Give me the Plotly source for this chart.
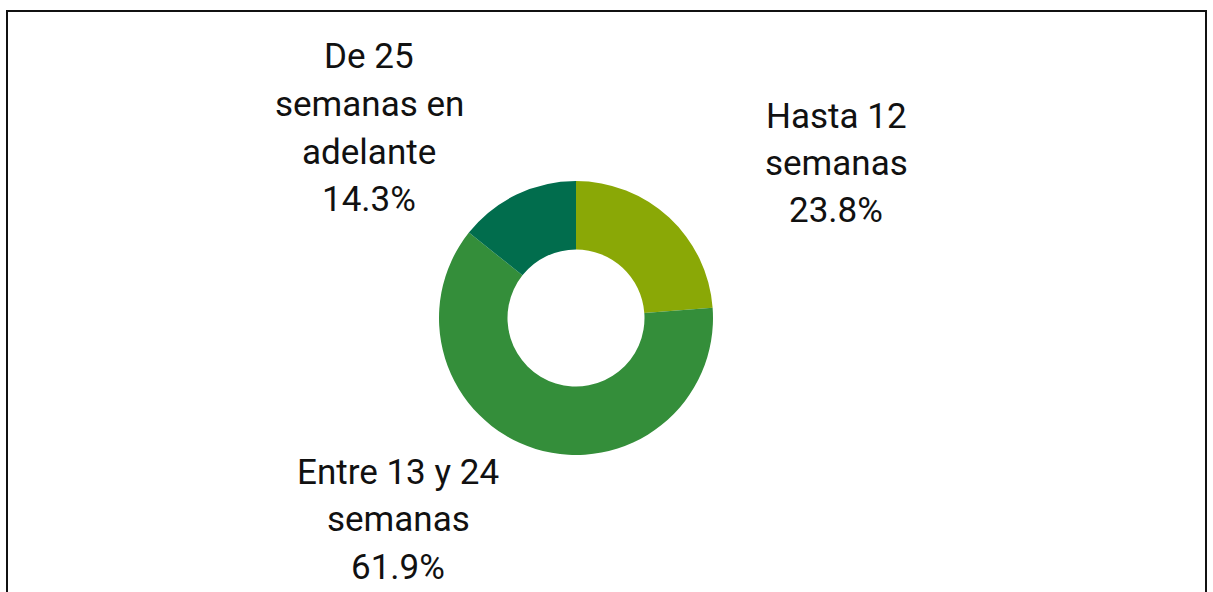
import plotly.graph_objects as go

W, H = 1213, 592

categories = ["Hasta 12 semanas", "Entre 13 y 24 semanas", "De 25 semanas en adelante"]
values = [5, 13, 3]
colors = ["#8AA806", "#348E3A", "#016D4D"]
label_lines = [
    ["Hasta 12", "semanas"],
    ["Entre 13 y 24", "semanas"],
    ["De 25", "semanas en", "adelante"],
]

# label block placement (pixels): center x, first line center y
label_pos = [(836, 116), (398.5, 472), (369, 57)]
line_gap = 47.5

total = sum(values)
pct = [f"{100 * v / total:.1f}%" for v in values]

cx, cy, r = 576, 318, 137

fig = go.Figure(
    go.Pie(
        labels=categories,
        values=values,
        marker=dict(colors=colors, line=dict(width=0)),
        hole=0.5,
        sort=False,
        direction="clockwise",
        rotation=0,
        textinfo="none",
        hoverinfo="label+percent",
        showlegend=False,
        domain=dict(
            x=[(cx - r) / W, (cx + r) / W],
            y=[1 - (cy + r) / H, 1 - (cy - r) / H],
        ),
    )
)

annotations = []
for lines, p, (lx, ly) in zip(label_lines, pct, label_pos):
    for i, t in enumerate(lines + [p]):
        annotations.append(
            dict(
                text=t,
                x=lx / W,
                y=1 - (ly + i * line_gap) / H,
                xref="paper",
                yref="paper",
                xanchor="center",
                yanchor="middle",
                showarrow=False,
                font=dict(family="Roboto", size=35, color="#111111"),
            )
        )

fig.update_layout(
    width=W,
    height=H,
    margin=dict(l=0, r=0, t=0, b=0),
    paper_bgcolor="white",
    plot_bgcolor="white",
    annotations=annotations,
    shapes=[
        dict(
            type="rect",
            xref="paper",
            yref="paper",
            x0=7 / W,
            x1=1206 / W,
            y0=-0.2,
            y1=1 - 11 / H,
            line=dict(color="#111111", width=2),
            fillcolor="rgba(0,0,0,0)",
            layer="below",
        )
    ],
)

fig.write_html(
    "out.html",
    config={"displayModeBar": False},
    post_script="document.body.style.margin='0';document.body.style.overflow='hidden';",
)
